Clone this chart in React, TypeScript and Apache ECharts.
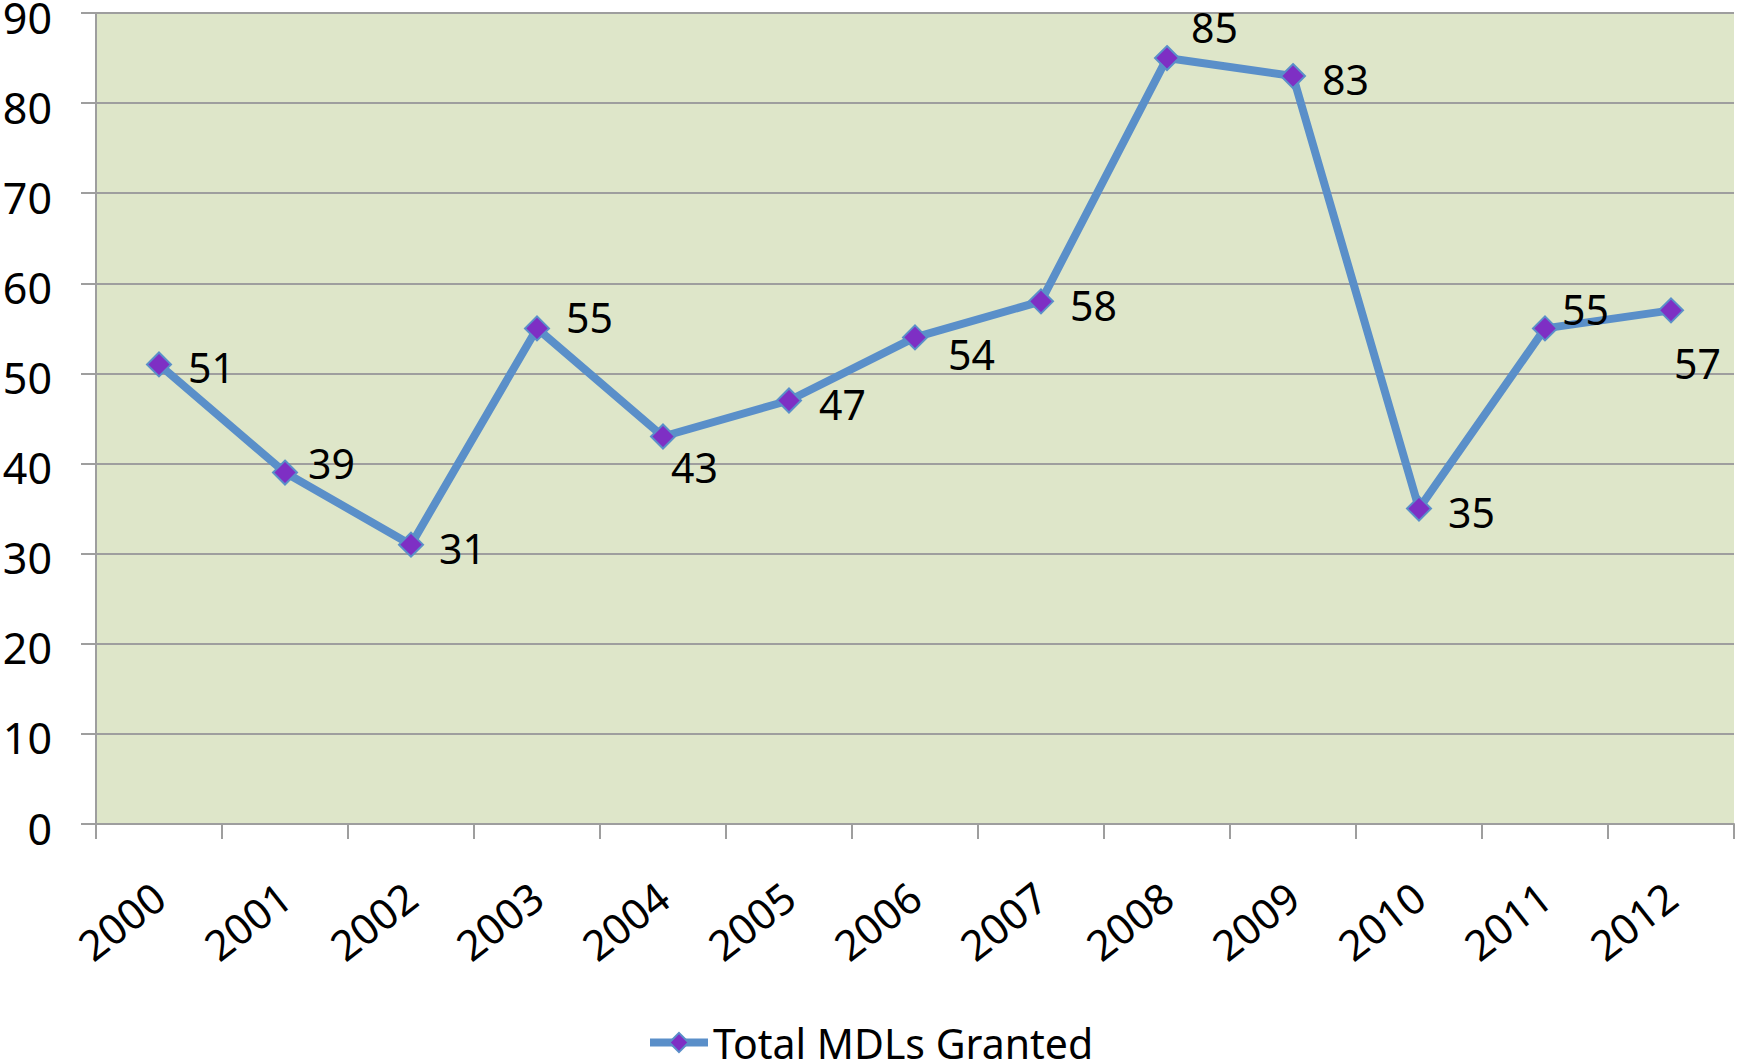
import React, { useEffect, useRef } from "react";
import * as echarts from "echarts";

const years = ["2000", "2001", "2002", "2003", "2004", "2005", "2006", "2007", "2008", "2009", "2010", "2011", "2012"];
const mdls = [51, 39, 31, 55, 43, 47, 54, 58, 85, 83, 35, 55, 57];
const labelOffsets: [number, number][] = [
  [16, 3], [10, -10], [15, 3], [16, -11], [-5, 30], [17, 4], [20, 17],
  [16, 4], [11, -31], [16, 3], [16, 3], [4, -19], [-10, 53],
];
const yTicks = { min: 0, max: 90, interval: 10 };

const FONT = "Noto Sans";

export default function App() {
  const ref = useRef<HTMLDivElement>(null);
  useEffect(() => {
    if (!ref.current) return;
    const chart = echarts.init(ref.current, null, { renderer: "svg" });
    chart.setOption({
      animation: false,
      backgroundColor: "#ffffff",
      grid: {
        left: 96, top: 13, right: 3, bottom: 240,
        containLabel: false,
        outerBoundsMode: "none",
        show: true, backgroundColor: "#DEE6C9", borderWidth: 0,
      },
      legend: {
        top: 1017, left: 641,
        itemWidth: 58, itemHeight: 24, itemGap: 2,
        lineStyle: { width: 8 },
        textStyle: { fontFamily: FONT, fontSize: 41, lineHeight: 40, color: "#000" },
        data: ["Total MDLs Granted"],
      },
      xAxis: {
        type: "category",
        data: years,
        boundaryGap: true,
        axisLine: { lineStyle: { color: "#9E9E9E", width: 2 } },
        axisTick: { show: true, length: 15, lineStyle: { color: "#9E9E9E", width: 2 } },
        axisLabel: {
          rotate: 38, margin: 67, fontFamily: FONT, fontSize: 42, color: "#000",
        },
      },
      yAxis: {
        type: "value",
        min: yTicks.min, max: yTicks.max, interval: yTicks.interval,
        axisLine: { show: true, lineStyle: { color: "#9E9E9E", width: 2 } },
        axisTick: { show: true, length: 15, lineStyle: { color: "#9E9E9E", width: 2 } },
        splitLine: { show: true, lineStyle: { color: "#9E9E9E", width: 2 } },
        axisLabel: {
          margin: 44, fontFamily: FONT, fontSize: 43, lineHeight: 8,
          verticalAlign: "top", color: "#000",
        },
      },
      series: [
        {
          name: "Total MDLs Granted",
          type: "line",
          data: mdls.map((v, i) => ({
            value: v,
            label: { offset: labelOffsets[i] },
          })),
          symbol: "diamond",
          symbolSize: 24,
          lineStyle: { color: "#5A8FC9", width: 8 },
          itemStyle: { color: "#7E2FC4", borderColor: "#5A8FC9", borderWidth: 2 },
          label: {
            show: true, position: "right", distance: 0, align: "left",
            fontFamily: FONT, fontSize: 41, lineHeight: 38, color: "#000",
          },
        },
      ],
    });
    return () => chart.dispose();
  }, []);
  return <div ref={ref} style={{ position: "fixed", left: 0, top: 0, width: 1737, height: 1064 }} />;
}
